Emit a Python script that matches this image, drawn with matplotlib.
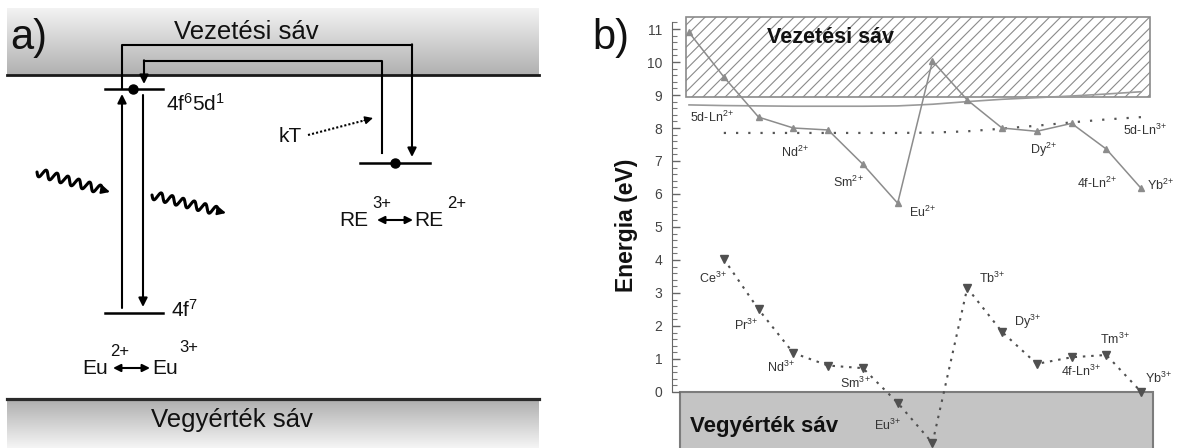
import matplotlib
matplotlib.use('Agg')
import matplotlib.pyplot as plt
import numpy as np
from matplotlib.patches import Rectangle
from matplotlib.ticker import FixedLocator

plt.rcParams['font.family'] = ['Liberation Sans', 'DejaVu Sans']
plt.rcParams['mathtext.default'] = 'regular'
plt.rcParams['hatch.linewidth'] = 0.8

# --- b) adatok: lantanida ionok szintjei (eV) ---
ions = ['La', 'Ce', 'Pr', 'Nd', 'Pm', 'Sm', 'Eu', 'Gd', 'Tb', 'Dy', 'Ho', 'Er', 'Tm', 'Yb']
ln2_4f = [10.9, 9.55, 8.33, 8.0, 7.94, 6.9, 5.72, 10.03, 8.85, 8.0, 7.9, 8.14, 7.36, 6.17]
ln3_4f = [np.nan, 4.03, 2.5, 1.18, 0.8, 0.72, -0.33, -1.55, 3.15, 1.82, 0.85, 1.05, 1.12, 0.0]
ln2_5d = [8.70, 8.68, 8.67, 8.66, 8.66, 8.66, 8.67, 8.72, 8.80, 8.87, 8.92, 8.97, 9.03, 9.10]
ln3_5d = [np.nan, 7.85, 7.85, 7.85, 7.85, 7.85, 7.85, 7.86, 7.90, 7.98, 8.07, 8.17, 8.26, 8.33]
cb_bottom, cb_top = 8.95, 11.36   # vezetesi sav
vb_top = 0.0                      # vegyertek sav teteje
yticks = list(range(0, 12))

# feliratok a b) abrán: szoveg, x, y, igazitas
b_labels = [
    ('5d-Ln$^{2\\!+}$', 1.03, 8.33, 'left'),
    ('Nd$^{2\\!+}$', 4.05, 7.27, 'center'),
    ('Sm$^{2\\!+}$', 5.57, 6.36, 'center'),
    ('Eu$^{2\\!+}$', 7.73, 5.45, 'center'),
    ('Dy$^{2\\!+}$', 11.21, 7.33, 'center'),
    ('5d-Ln$^{3\\!+}$', 13.48, 7.94, 'left'),
    ('4f-Ln$^{2\\!+}$', 12.73, 6.33, 'center'),
    ('Yb$^{2\\!+}$', 14.17, 6.27, 'left'),
    ('Ce$^{3\\!+}$', 1.69, 3.45, 'center'),
    ('Pr$^{3\\!+}$', 2.64, 2.03, 'center'),
    ('Nd$^{3\\!+}$', 3.65, 0.73, 'center'),
    ('Sm$^{3\\!+}$', 5.77, 0.27, 'center'),
    ('Eu$^{3\\!+}$', 6.72, -1.0, 'center'),
    ('Tb$^{3\\!+}$', 9.71, 3.45, 'center'),
    ('Dy$^{3\\!+}$', 10.75, 2.12, 'center'),
    ('Tm$^{3\\!+}$', 13.25, 1.58, 'center'),
    ('4f-Ln$^{3\\!+}$', 12.27, 0.61, 'center'),
    ('Yb$^{3\\!+}$', 14.49, 0.42, 'center'),
]

W, H = 1178, 448
fig = plt.figure(figsize=(W / 100, H / 100), dpi=100)

# ================= a) energiaszint-sema =================
ax = fig.add_axes([0, 0, 560 / W, 1])
ax.set_xlim(0, 560)
ax.set_ylim(H, 0)
ax.axis('off')

band_x0, band_x1 = 7, 539
cb_edge, vb_edge = 75, 399
exc_y, gnd_y, re_y = 89, 313, 163
lvl_x0, lvl_x1 = 105, 163
re_x0, re_x1 = 360, 430

grad = np.linspace(0, 1, 200).reshape(-1, 1)
ax.imshow(0.95 - 0.26 * grad, cmap='gray', vmin=0, vmax=1, aspect='auto',
          extent=(band_x0, band_x1, cb_edge, 8), zorder=0)
ax.imshow(0.68 + 0.28 * grad, cmap='gray', vmin=0, vmax=1, aspect='auto',
          extent=(band_x0, band_x1, H, vb_edge), zorder=0)
ax.plot([band_x0, band_x1], [cb_edge, cb_edge], color='#1a1a1a', lw=2)
ax.plot([band_x0, band_x1], [vb_edge, vb_edge], color='#2a2a2a', lw=2.3)

# szintek
ax.plot([lvl_x0, lvl_x1], [exc_y, exc_y], color='k', lw=1.8)
ax.plot([lvl_x0, lvl_x1], [gnd_y, gnd_y], color='k', lw=1.8)
ax.plot([re_x0, re_x1], [re_y, re_y], color='k', lw=1.8)
ax.plot([133], [exc_y], 'o', color='k', ms=6.5)
ax.plot([395], [re_y], 'o', color='k', ms=6.5)

arr = dict(arrowstyle='-|>', color='k', lw=1.5, mutation_scale=13, shrinkA=0, shrinkB=0)
# abszorpcio es emisszio
ax.annotate('', xy=(122, 94), xytext=(122, 308), arrowprops=arr)
ax.annotate('', xy=(143, 307), xytext=(143, 95), arrowprops=arr)
# toltesatadas a vezetesi sávon at
ax.plot([122, 122, 412], [exc_y, 45, 45], color='k', lw=1.5)
ax.annotate('', xy=(412, 157), xytext=(412, 44.3), arrowprops=arr)
ax.plot([382, 382, 144], [153, 61, 61], color='k', lw=1.5)
ax.annotate('', xy=(144, 84), xytext=(144, 60.3), arrowprops=arr)

# kT termikus aktivalas
ax.plot([308, 366], [135, 120], color='k', lw=1.5, ls=(0, (1, 1)))
ax.annotate('', xy=(373, 118), xytext=(364, 120.5),
            arrowprops=dict(arrowstyle='-|>', color='k', lw=1, mutation_scale=12,
                            shrinkA=0, shrinkB=0))


def wavy_arrow(p0, p1, n_waves=6, amp=4.2):
    p0 = np.asarray(p0, float)
    p1 = np.asarray(p1, float)
    d = p1 - p0
    length = np.hypot(*d)
    u = d / length
    nrm = np.array([-u[1], u[0]])
    body = length - 8
    t = np.linspace(0, body, 400)
    w = amp * np.sin(2 * np.pi * n_waves * t / body)
    pts = p0 + np.outer(t, u) + np.outer(w, nrm)
    ax.plot(pts[:, 0], pts[:, 1], color='k', lw=2.2, solid_capstyle='round')
    ax.annotate('', xy=p1, xytext=p0 + u * (body - 1),
                arrowprops=dict(arrowstyle='-|>', color='k', lw=1.5, mutation_scale=12,
                                shrinkA=0, shrinkB=0))


wavy_arrow((37, 172), (110, 192))
wavy_arrow((152, 195), (226, 213))

txt = dict(color='#111111', va='center')
ax.text(10, 38, 'a)', fontsize=30, **txt)
ax.text(246, 32, 'Vezetési sáv', fontsize=18.5, ha='center', **txt)
ax.text(232, 420, 'Vegyérték sáv', fontsize=18.5, ha='center', **txt)
ax.text(166, 104, '4f$^6$5d$^1$', fontsize=15, ha='left', **txt)
ax.text(171, 310, '4f$^7$', fontsize=15, ha='left', **txt)
ax.text(302, 137, 'kT', fontsize=15, ha='right', **txt)

# Eu2+ <-> Eu3+
ax.text(82, 369, 'Eu', fontsize=15, ha='left', **txt)
ax.text(110, 352, '2+', fontsize=12, ha='left', **txt)
ax.annotate('', xy=(150, 368), xytext=(113, 368),
            arrowprops=dict(arrowstyle='<|-|>', color='k', lw=1.5, mutation_scale=11,
                            shrinkA=0, shrinkB=0))
ax.text(152, 369, 'Eu', fontsize=15, ha='left', **txt)
ax.text(179, 348, '3+', fontsize=12, ha='left', **txt)

# RE3+ <-> RE2+
ax.text(339, 221, 'RE', fontsize=15, ha='left', **txt)
ax.text(372, 204, '3+', fontsize=12, ha='left', **txt)
ax.annotate('', xy=(413, 220), xytext=(377, 220),
            arrowprops=dict(arrowstyle='<|-|>', color='k', lw=1.5, mutation_scale=11,
                            shrinkA=0, shrinkB=0))
ax.text(414, 221, 'RE', fontsize=15, ha='left', **txt)
ax.text(447, 204, '2+', fontsize=12, ha='left', **txt)

# ================= b) lantanida szintek =================
bx = fig.add_axes([672 / W, 0, (W - 672) / W, 1])
x = np.arange(1, len(ions) + 1)
bx.set_xlim(0.511, 15.06)
bx.set_ylim(-1.70, 11.88)

bx.add_patch(Rectangle((0.914, cb_bottom), 13.35, cb_top - cb_bottom, facecolor='white',
                       edgecolor='#8a8a8a', hatch='///', lw=1.2, zorder=1))
bx.add_patch(Rectangle((0.741, -3), 13.6, 3 + vb_top, facecolor='#c4c4c4',
                       edgecolor='#7c7c7c', lw=1.5, zorder=1))

bx.plot(x, ln2_5d, color='#9a9a9a', lw=1.2, zorder=3)
bx.plot(x, ln3_5d, color='#555555', lw=1.6, ls=(0, (1, 4.5)), zorder=3)
bx.plot(x, ln2_4f, color='#8c8c8c', lw=1.1, marker='^', ms=5, zorder=4)
bx.plot(x, ln3_4f, color='#505050', lw=1.5, ls=(0, (1.2, 2.8)), zorder=4)
bx.plot(x, ln3_4f, color='#505050', lw=0, marker='v', ms=5.5, zorder=4)

for s, lx, ly, ha in b_labels:
    bx.text(lx, ly, s, fontsize=9, color='#333333', ha=ha, va='center', zorder=5)

bx.text(5.06, 10.73, 'Vezetési sáv', fontsize=15.5, fontweight='bold', ha='center',
        va='center', color='#111111', zorder=5)
bx.text(1.03, -1.06, 'Vegyérték sáv', fontsize=16, fontweight='bold', ha='left',
        va='center', color='#111111', zorder=5)

for side in ['top', 'right', 'bottom']:
    bx.spines[side].set_visible(False)
bx.spines['left'].set_bounds(0, 11.2)
bx.spines['left'].set_color('#666666')
bx.set_xticks([])
bx.yaxis.set_major_locator(FixedLocator(yticks))
bx.yaxis.set_minor_locator(FixedLocator(np.arange(0, 11.21, 0.2)))
bx.tick_params(axis='y', which='major', direction='in', length=6, width=1,
               color='#666666', labelcolor='#444444', labelsize=10, pad=7)
bx.tick_params(axis='y', which='minor', direction='in', length=3.5, width=0.8,
               color='#777777')
bx.patch.set_alpha(0)

fig.text(592 / W, 1 - 38 / H, 'b)', fontsize=30, color='#111111', va='center')
fig.text(626 / W, 1 - 225 / H, 'Energia (eV)', fontsize=16.5, fontweight='bold',
         rotation=90, ha='center', va='center', color='#111111')

fig.savefig('out.png', dpi=100)
